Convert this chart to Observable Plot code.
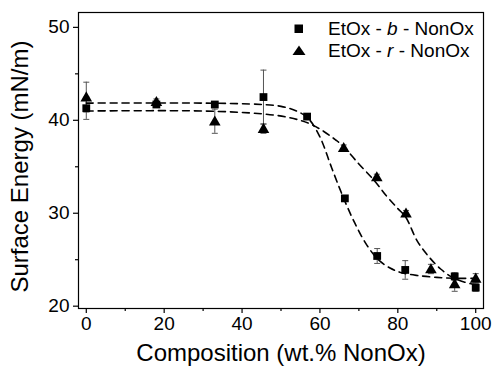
<!DOCTYPE html>
<html>
<head>
<meta charset="utf-8">
<script src="https://cdn.jsdelivr.net/npm/d3@7"></script>
<script src="https://cdn.jsdelivr.net/npm/@observablehq/plot@0.6"></script>
<style>
  body { margin: 0; background: #fff; }
  #wrap { position: relative; width: 492px; height: 369px; font-family: "Liberation Sans", Arial, sans-serif; }
  #legend { position: absolute; left: 292px; top: 18px; font-size: 19px; line-height: 22px; color: #000; }
  #legend div { display: flex; align-items: center; white-space: nowrap; }
  #legend svg { margin-right: 22px; }
</style>
</head>
<body>
<div id="wrap"><div id="legend"></div></div>
<script>
// Series: EtOx - b - NonOx (squares)
const xB = [0, 18, 33, 45.5, 56.7, 66.4, 74.7, 81.9, 94.6, 100];
const yB = [41.3, 41.7, 41.7, 42.5, 40.4, 31.6, 25.4, 23.9, 23.2, 22.0];
const errB = [1.2, 0.3, 0.3, 2.9, 0.3, 0.3, 0.8, 1.0, 0.4, 0.4];
// Series: EtOx - r - NonOx (triangles)
const xR = [0, 18, 33, 45.5, 66.1, 74.6, 82.1, 88.5, 94.6, 100];
const yR = [42.5, 42.0, 39.9, 39.1, 37.05, 33.9, 30.0, 24.0, 22.4, 23.0];
const errR = [1.6, 0.3, 1.3, 0.5, 0.3, 0.3, 0.3, 0.5, 0.8, 0.5];
// Dashed fit curves
const fitBx = [0, 30, 45, 50, 54, 57, 60, 63, 66, 69, 72, 75, 78, 81, 85, 90, 95, 100];
const fitBy = [41.85, 41.85, 41.7, 41.5, 41.0, 40.2, 38.2, 34.9, 31.7, 28.9, 26.6, 25.0, 24.1, 23.6, 23.3, 23.1, 23.0, 23.0];
const fitRx = [0, 30, 45, 52, 57, 61, 64, 66, 70, 74, 77, 80, 82, 85, 88, 91, 94, 97, 100];
const fitRy = [41.0, 41.0, 40.7, 40.3, 39.7, 38.8, 37.9, 37.2, 35.3, 33.5, 31.9, 30.5, 29.6, 27.0, 25.3, 24.0, 23.1, 22.6, 22.3];
// Axes
const xTicks = [0, 20, 40, 60, 80, 100];
const xMinor = [10, 30, 50, 70, 90];
const yTicks = [20, 30, 40, 50];
const yMinor = [25, 35, 45];
const seriesNames = ["b", "r"];

const ptsB = xB.map((x, i) => ({x, y: yB[i], e: errB[i]}));
const ptsR = xR.map((x, i) => ({x, y: yR[i], e: errR[i]}));
const fitB = fitBx.map((x, i) => ({x, y: fitBy[i]}));
const fitR = fitRx.map((x, i) => ({x, y: fitRy[i]}));
const allPts = ptsB.concat(ptsR);

const capSymbol = { draw(ctx, size) { const w = 3; ctx.moveTo(-w, 0); ctx.lineTo(w, 0); } };
const triSymbol = { draw(ctx, size) { const s = 5.8; ctx.moveTo(0, -s); ctx.lineTo(s, s * 0.75); ctx.lineTo(-s, s * 0.75); ctx.closePath(); } };

const errColor = "#555";
const chart = Plot.plot({
  width: 492, height: 369,
  marginLeft: 78, marginRight: 9, marginTop: 12, marginBottom: 61,
  style: { fontFamily: "Liberation Sans, Arial, sans-serif", fontSize: "19px", color: "#000", background: "transparent", overflow: "visible" },
  x: { domain: [-2, 102] },
  y: { domain: [19.75, 51.6] },
  marks: [
    Plot.frame({ stroke: "#000", strokeWidth: 1.2 }),
    Plot.axisX({ ticks: xTicks, tickSize: 5, tickPadding: 3, tickFormat: d => String(d), fontSize: 19, label: null, strokeWidth: 1.2 }),
    Plot.axisX({ ticks: xMinor, tickSize: 3, tickFormat: () => "", label: null, strokeWidth: 1.2 }),
    Plot.axisY({ ticks: yTicks, tickSize: 5, tickPadding: 4, tickFormat: d => String(d), fontSize: 19, label: null, strokeWidth: 1.2 }),
    Plot.axisY({ ticks: yMinor, tickSize: 3, tickFormat: () => "", label: null, strokeWidth: 1.2 }),
    Plot.text(["Composition (wt.% NonOx)"], { frameAnchor: "bottom", textAnchor: "middle", dy: 52, fontSize: 24 }),
    Plot.text(["Surface Energy (mN/m)"], { frameAnchor: "left", textAnchor: "middle", dx: -58, dy: 6, rotate: -90, fontSize: 24 }),
    // error bars
    Plot.ruleX(allPts, { x: "x", y1: d => d.y - d.e, y2: d => d.y + d.e, stroke: errColor, strokeWidth: 1 }),
    Plot.dot(allPts, { x: "x", y: d => d.y - d.e, symbol: capSymbol, stroke: errColor, strokeWidth: 1, fill: "none" }),
    Plot.dot(allPts, { x: "x", y: d => d.y + d.e, symbol: capSymbol, stroke: errColor, strokeWidth: 1, fill: "none" }),
    // fits
    Plot.line(fitB, { x: "x", y: "y", stroke: "#000", strokeWidth: 1.6, strokeDasharray: "7,5", curve: "catmull-rom" }),
    Plot.line(fitR, { x: "x", y: "y", stroke: "#000", strokeWidth: 1.6, strokeDasharray: "7,5", curve: "catmull-rom" }),
    // points
    Plot.dot(ptsB, { x: "x", y: "y", symbol: "square", r: 4.4, fill: "#000", stroke: "none" }),
    Plot.dot(ptsR, { x: "x", y: "y", symbol: triSymbol, fill: "#000", stroke: "none" })
  ]
});
chart.style.position = "absolute";
chart.style.left = "0"; chart.style.top = "0";
document.getElementById("wrap").prepend(chart);

const legend = document.getElementById("legend");
legend.innerHTML =
  `<div><svg width="14" height="12"><rect x="2.5" y="1.5" width="8.5" height="8.5" fill="#000"/></svg>EtOx - <i>&nbsp;${seriesNames[0]}&nbsp;</i> - NonOx</div>` +
  `<div><svg width="14" height="12"><path d="M7,0.5 L13.5,10 L0.5,10Z" fill="#000"/></svg>EtOx - <i>&nbsp;${seriesNames[1]}&nbsp;</i> - NonOx</div>`;
</script>
</body>
</html>
